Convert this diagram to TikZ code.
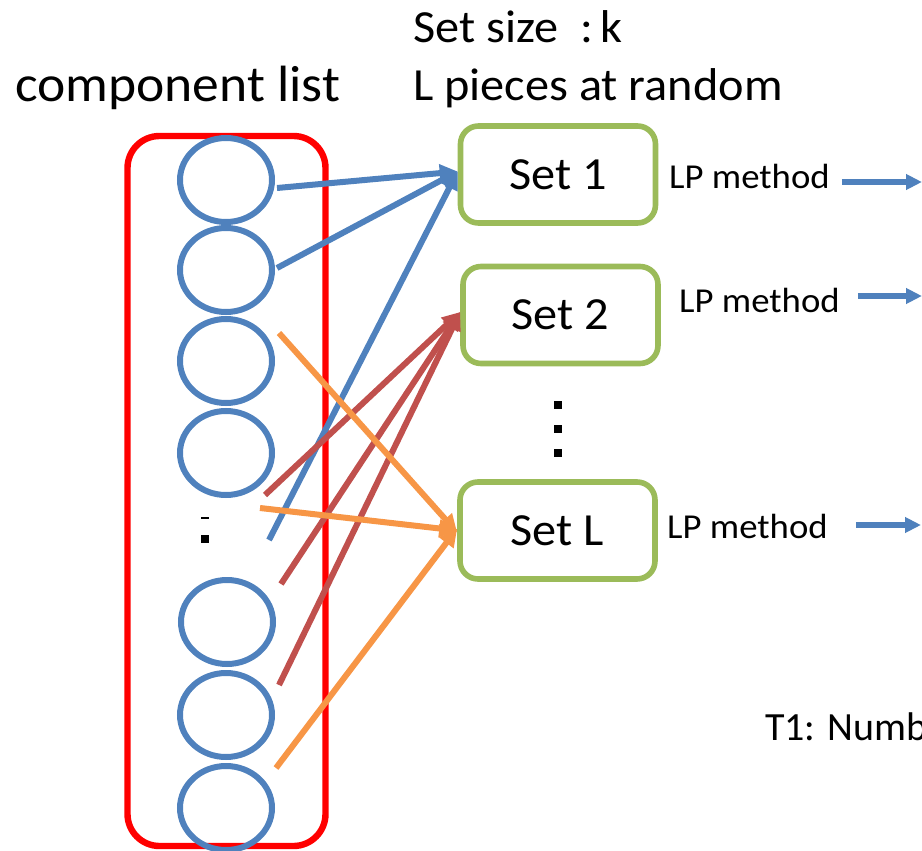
\documentclass[tikz,border=0pt]{standalone}
\usepackage{fontspec}
\setmainfont{Carlito}[FakeStretch=1.05]
\newfontfamily\notefont{Carlito}
\usetikzlibrary{arrows.meta,shapes.geometric}
\definecolor{cblue}{HTML}{4F81BD}
\definecolor{cred}{HTML}{C0504D}
\definecolor{corange}{HTML}{F79646}
\definecolor{cgreen}{HTML}{9BBB59}
\definecolor{cframe}{HTML}{FF0000}
\begin{document}
\begin{tikzpicture}[x=1pt,y=-1pt,
  item/.style={draw=cblue, line width=6pt, ellipse, minimum width=92, minimum height=84, inner sep=0pt},
  setbox/.style={draw=cgreen, line width=5.6pt, rounded corners=18pt, minimum width=195, minimum height=97,
    inner sep=0pt, font=\fontsize{46}{54}\selectfont},
  lplabel/.style={anchor=base west, inner sep=0pt, font=\fontsize{35}{42}\selectfont},
  title/.style={anchor=base west, inner sep=0pt},
  link/.style={line width=6pt, -{Triangle[length=18pt,width=17pt]}},
  outarrow/.style={cblue, line width=5.6pt, -{Triangle[length=16pt,width=15pt]}},
  dotmark/.style={fill=black, inner sep=0pt, minimum size=8pt}]
\useasboundingbox (0,0) rectangle (922,851);

% titles
\node[title, font=\fontsize{51}{60}\selectfont] (complist) at (15,102) {component list};
\node[title, font=\fontsize{46}{54}\selectfont] (setsize) at (413,43) {Set size\ \ :\,k};
\node[title, font=\fontsize{46}{54}\selectfont] (pieces) at (413,100) {L pieces at random};

% component list frame
\node[draw=cframe, line width=6.4pt, rounded corners=32pt, minimum width=198, minimum height=710, inner sep=0pt]
  (frame) at (226.5,491) {};

% components
\node[item] (c1) at (226,180) {};
\node[item] (c2) at (226,270) {};
\node[item] (c3) at (226,361) {};
\node[item] (c4) at (226,453) {};
\node[item] (c5) at (227,622) {};
\node[item] (c6) at (226,715) {};
\node[item] (c7) at (226,808) {};

% omitted components
\node[fill=black, inner sep=0pt, minimum width=8pt, minimum height=2pt] (gapa) at (205,518) {};
\node[dotmark] (gapb) at (205,539) {};

% sets
\node[setbox] (s1) at (558,174.5) {Set 1};
\node[setbox] (s2) at (560.5,315) {Set 2};
\node[setbox] (s3) at (557.5,530.5) {Set L};

% omitted sets
\node[dotmark] (va) at (558,405) {};
\node[dotmark] (vb) at (558,429) {};
\node[dotmark] (vc) at (558,453) {};

% connector start points
\coordinate (b1) at (277,188);
\coordinate (b2) at (277,268);
\coordinate (b3) at (269,540);
\coordinate (r1) at (265,495);
\coordinate (r2) at (281,584);
\coordinate (r3) at (279,685);
\coordinate (o1) at (279,333);
\coordinate (o2) at (260,508);
\coordinate (o3) at (276,768);

% picks for set 1
\draw[link, cblue] (b1) -- ([yshift=3pt]s1.west);
\draw[link, cblue] (b2) -- ([yshift=3pt]s1.west);
\draw[link, cblue] (b3) -- ([yshift=3pt]s1.west);
% picks for set 2
\draw[link, cred] (r1) -- ([yshift=3pt]s2.west);
\draw[link, cred] (r2) -- ([yshift=3pt]s2.west);
\draw[link, cred] (r3) -- ([yshift=3pt]s2.west);
% picks for set L
\draw[link, corange] (o1) -- ([yshift=-2pt]s3.west);
\draw[link, corange] (o2) -- (s3.west);
\draw[link, corange] (o3) -- ([yshift=2pt]s3.west);

% LP method outputs
\node[lplabel] (lp1) at (669,188) {LP method};
\node[lplabel] (lp2) at (679,312) {LP method};
\node[lplabel] (lp3) at (667,538) {LP method};
\coordinate (e1) at (922,182);
\coordinate (e2) at (922,296);
\coordinate (e3) at (921,525);
\draw[outarrow] ([xshift=12pt]lp1.east |- e1) -- (e1);
\draw[outarrow] ([xshift=18pt]lp2.east |- e2) -- (e2);
\draw[outarrow] ([xshift=28pt]lp3.east |- e3) -- (e3);

% note
\node[title, font=\notefont\fontsize{40}{48}\selectfont] (note) at (765,740) {T1: Numb};
\end{tikzpicture}
\end{document}
